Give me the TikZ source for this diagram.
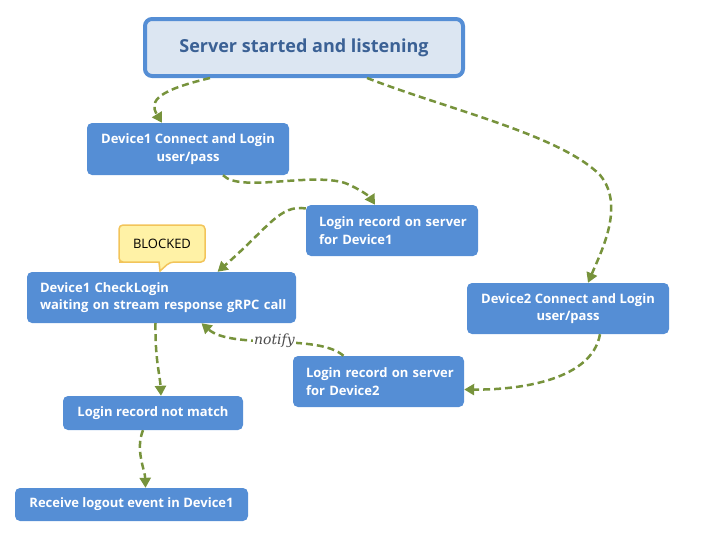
\documentclass[tikz,border=0pt]{standalone}
\usepackage{fontspec}
\setmainfont{Open Sans}[BoldFont={Open Sans Bold}]
\newfontfamily\notifyfont{DejaVu Serif}
\usetikzlibrary{arrows.meta}
\definecolor{boxblue}{HTML}{558ED5}
\definecolor{srvfill}{HTML}{DCE6F2}
\definecolor{srvtext}{HTML}{3B6195}
\definecolor{olive}{HTML}{77933C}
\definecolor{calfill}{HTML}{FFF2A6}
\definecolor{caldraw}{HTML}{F2C45A}
\tikzset{
  box/.style={fill=boxblue, rounded corners=5pt, text=white,
    font=\bfseries\fontsize{13}{17.5}\selectfont, inner sep=0pt, align=center},
  lbox/.style={box, align=left, inner xsep=13pt},
  flow/.style={draw=olive, line width=2.5pt, dash pattern=on 7pt off 4pt,
    -{Triangle[length=10pt,width=11pt]}},
}
\begin{document}
\begin{tikzpicture}[x=1pt,y=-1pt]
\useasboundingbox (0,0) rectangle (709,538);
\node[draw=boxblue, line width=4pt, fill=srvfill, rounded corners=7pt,
  minimum width=318pt, minimum height=57pt, text=srvtext,
  font=\bfseries\fontsize{18}{20}\selectfont] (srv) at (304,47.5) {Server started and listening};
\node[box, minimum width=202pt, minimum height=52pt] (d1) at (188,149) {Device1 Connect and Login\\user/pass};
\node[lbox, text width=146pt, minimum height=51pt] (lr1) at (392,230.5) {\mbox{Login record on server}\\\mbox{for Device1}};
\node[lbox, text width=243pt, minimum height=51pt] (chk) at (161.5,297.5) {\mbox{Device1 CheckLogin}\\\mbox{waiting on stream response gRPC call}};
\node[box, minimum width=202pt, minimum height=51pt] (d2) at (568,308.5) {Device2 Connect and Login\\user/pass};
\node[lbox, text width=145pt, minimum height=51pt] (lr2) at (378.5,381.5) {\mbox{Login record on server}\\\mbox{for Device2}};
\node[box, minimum width=180pt, minimum height=34pt] (nm) at (153,413) {Login record not match};
\node[box, minimum width=233pt, minimum height=33pt] (rcv) at (131.5,504.5) {Receive logout event in Device1};
% callout
\draw[fill=calfill, draw=caldraw, line width=1.5pt, rounded corners=4pt]
  (158,262) -- (123,262) -- (119,262) -- (119,225) -- (205,225) -- (205,262) -- (170,262) [sharp corners] -- (160,271) -- (159,262) -- cycle;
\node[font=\fontsize{13}{14}\selectfont, text=black] (blk) at (162,243.5) {BLOCKED};
% connectors
\draw[flow] ([xshift=-94pt]srv.south) .. controls (160,90) and (148,100) .. ([xshift=-26pt]d1.north);
\draw[flow] ([xshift=35pt]d1.south) .. controls (240,193) and (310,172) .. (345,183) .. controls (360,189) and (370,197) .. ([xshift=-17pt]lr1.north);
\draw[flow] ([yshift=22pt]lr1.west) .. controls (280,204) and (268,228) .. ([xshift=56pt]chk.north);
\draw[flow] ([xshift=63pt]srv.south) .. controls (450,110) and (560,135) .. (600,175) .. controls (625,205) and (602,250) .. ([xshift=20pt]d2.north);
\draw[flow] ([xshift=32pt]d2.south) .. controls (592,380) and (520,390) .. ([yshift=-8pt]lr2.east);
\draw[flow] ([xshift=-35pt]lr2.north) .. controls (318,333) and (232,350) .. ([xshift=40pt]chk.south)
  node[pos=0.5, fill=white, inner xsep=1pt, inner ysep=0pt, font=\notifyfont\itshape\fontsize{14}{15}\selectfont, text=black!70] {notify};
\draw[flow] ([xshift=-6pt]chk.south) .. controls (155,360) and (160,375) .. ([xshift=8pt]nm.north);
\draw[flow] ([xshift=-10pt]nm.south) .. controls (135,450) and (145,470) .. ([xshift=14pt]rcv.north);
\end{tikzpicture}
\end{document}
